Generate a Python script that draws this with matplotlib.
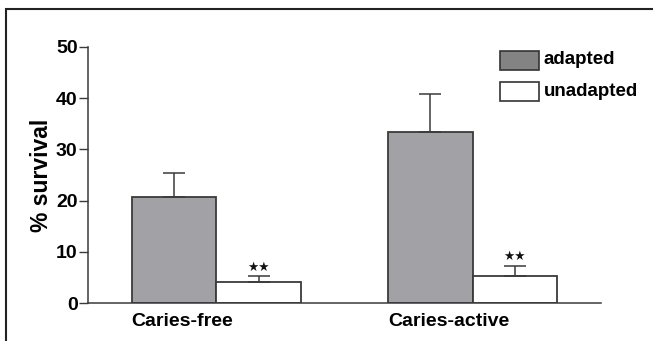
import numpy as np
import matplotlib
matplotlib.use("Agg")
import matplotlib.pyplot as plt
from matplotlib.patches import Rectangle

## data
groups = ["Caries-free", "Caries-active"]
adapted = [20.8, 33.3]
adapted_err = [4.5, 7.5]
unadapted = [4.2, 5.3]
unadapted_err = [1.1, 2.0]
series = ["adapted", "unadapted"]
marks = ["★★", "★★"]

plt.rcParams['font.family'] = ['Liberation Sans', 'DejaVu Sans']

fig = plt.figure(figsize=(6.53, 3.41), dpi=100)
ax = fig.add_axes([0.1348, 0.1106, 0.7852, 0.7524])

x = np.arange(len(groups))
w = 0.33
edge = "#3a3a3a"
ekw = dict(ecolor=edge, elinewidth=1.1, capsize=8, capthick=1.1)
ax.bar(x - w/2, adapted, w, color="#a2a1a6", edgecolor=edge, linewidth=1.3, label=series[0],
       yerr=[np.zeros(2), adapted_err], error_kw=ekw)
ax.bar(x + w/2, unadapted, w, color="white", edgecolor=edge, linewidth=1.3, label=series[1],
       yerr=[np.zeros(2), unadapted_err], error_kw=ekw)

# significance stars
for i in range(len(groups)):
    ax.text(x[i] + w/2, unadapted[i] + unadapted_err[i] + 0.5, marks[i], ha="center", va="bottom",
            fontsize=9, family="DejaVu Sans", color="#111111")

ax.set_xlim(-0.5, 1.5)
ax.set_ylim(0, 50)
ax.set_yticks([0, 10, 20, 30, 40, 50])
# group labels start at the left edge of each group
ax.set_xticks(x - w)
ax.set_xticklabels(groups, fontsize=14, fontweight="bold", ha="left")
ax.tick_params(axis="x", length=0, pad=7)
ax.tick_params(axis="y", length=6.5, width=1, color=edge, labelsize=14, pad=1)
for lab in ax.get_yticklabels():
    lab.set_fontweight("bold")
ax.spines["top"].set_visible(False)
ax.spines["right"].set_visible(False)
ax.spines["left"].set_color(edge)
ax.spines["bottom"].set_color(edge)
ax.spines["left"].set_linewidth(1.1)
ax.spines["bottom"].set_linewidth(1.1)
ax.set_ylabel("% survival", fontsize=16.5, fontweight="bold", labelpad=2)

# legend
fig.patches.append(Rectangle((500/653, 1 - 70/341), 39/653, 19/341, transform=fig.transFigure,
                             facecolor="#838383", edgecolor="#333333", linewidth=1.2))
fig.patches.append(Rectangle((500/653, 1 - 101.5/341), 39/653, 19/341, transform=fig.transFigure,
                             facecolor="white", edgecolor="#333333", linewidth=1.2))
fig.text(543/653, 1 - 60/341, series[0], fontsize=13.5, fontweight="bold", va="center")
fig.text(544/653, 1 - 91/341, series[1], fontsize=13.5, fontweight="bold", va="center")

# outer frame
fig.patches.append(Rectangle((6/653, -0.2), 1.2, 1.2 - 9/341, transform=fig.transFigure,
                             facecolor="none", edgecolor="#222222", linewidth=1.5))

fig.savefig("out.png", dpi=100)
